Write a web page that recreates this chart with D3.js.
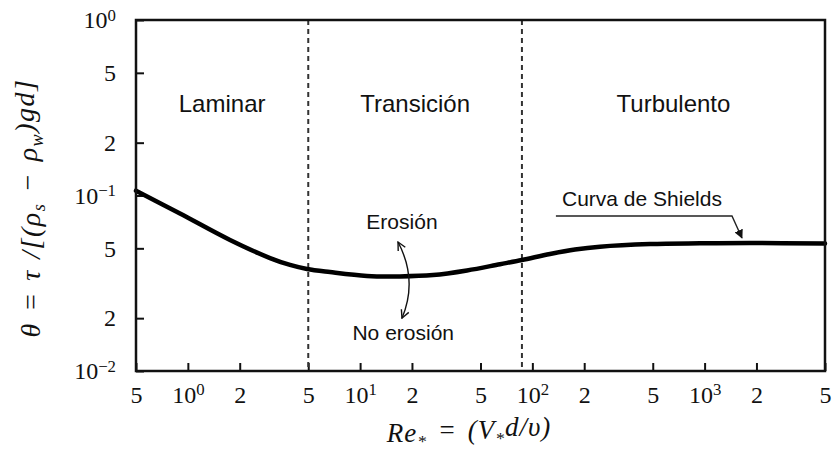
<!DOCTYPE html>
<html>
<head>
<meta charset="utf-8">
<style>
  body { margin: 0; background: #fff; }
  .tick text { font-family: "Liberation Serif", serif; font-size: 24px; fill: #111; }
  .region { font-family: "Liberation Sans", Arial, sans-serif; font-size: 24px; fill: #111; text-anchor: middle; }
  .note { font-family: "Liberation Sans", Arial, sans-serif; font-size: 21px; fill: #111; text-anchor: middle; }
  .title { font-family: "Liberation Serif", serif; font-style: italic; fill: #111; text-anchor: middle; }
</style>
</head>
<body>
<svg width="834" height="450"></svg>
<script src="https://d3js.org/d3.v7.min.js"></script>
<script>
// Shields curve
var reynolds = [0.5, 0.9, 1.757, 3.0, 3.918, 4.917, 6.687, 10.96, 17.04, 26.5, 41.74, 64.89, 87, 126.6, 176.8, 247, 482, 940, 1834, 5000];
var theta = [0.1065, 0.079, 0.0558, 0.044, 0.0402, 0.0381, 0.0366, 0.0348, 0.0346, 0.0352, 0.0374, 0.0406, 0.0429, 0.0464, 0.0492, 0.0511, 0.0529, 0.0534, 0.0536, 0.0533];

var xTicks = [0.5, 1, 2, 5, 10, 20, 50, 100, 200, 500, 1000, 2000, 5000];
var xTickLabels = ["5", "10^0", "2", "5", "10^1", "2", "5", "10^2", "2", "5", "10^3", "2", "5"];
var yTicks = [1, 0.5, 0.2, 0.1, 0.05, 0.02, 0.01];
var yTickLabels = ["10^0", "5", "2", "10^−1", "5", "2", "10^−2"];

var regimeBounds = [5, 87];
var regimes = ["Laminar", "Transición", "Turbulento"];

var svg = d3.select("svg"),
    margin = {top: 20, right: 9, bottom: 79, left: 136},
    w = +svg.attr("width") - margin.left - margin.right,
    h = +svg.attr("height") - margin.top - margin.bottom;

var x = d3.scaleLog().domain([0.5, 5000]).range([0, w]);
var y = d3.scaleLog().domain([0.01, 1]).range([h, 0]);

var g = svg.append("g")
    .attr("transform", "translate(" + margin.left + "," + margin.top + ")");

var defs = svg.append("defs");
defs.append("marker").attr("id", "solid")
    .attr("viewBox", "0 0 10 10").attr("refX", 9).attr("refY", 5)
    .attr("markerWidth", 9).attr("markerHeight", 9).attr("markerUnits", "userSpaceOnUse")
    .attr("orient", "auto")
  .append("path").attr("d", "M0,0L10,5L0,10Z").attr("fill", "#111");
defs.append("marker").attr("id", "open")
    .attr("viewBox", "0 0 10 10").attr("refX", 9).attr("refY", 5)
    .attr("markerWidth", 10).attr("markerHeight", 10).attr("markerUnits", "userSpaceOnUse")
    .attr("orient", "auto-start-reverse")
  .append("path").attr("d", "M1,1L9,5L1,9").attr("fill", "none").attr("stroke", "#111").attr("stroke-width", 1.4);

function supLabel(sel, labels) {
  sel.selectAll(".tick text").each(function(d, i) {
    var t = d3.select(this), parts = labels[i].split("^");
    t.text(parts[0]);
    if (parts[1]) {
      t.append("tspan").attr("dy", "-0.45em").attr("font-size", "0.7em").text(parts[1]);
    }
  });
}

var xAxis = g.append("g")
    .attr("transform", "translate(0," + h + ")")
    .call(d3.axisBottom(x).tickValues(xTicks).tickSizeInner(-8).tickSizeOuter(0).tickPadding(15));
xAxis.call(supLabel, xTickLabels);

var yAxis = g.append("g")
    .call(d3.axisLeft(y).tickValues(yTicks).tickSizeInner(-8).tickSizeOuter(0).tickPadding(20));
yAxis.call(supLabel, yTickLabels);

g.selectAll(".domain").remove();
g.selectAll(".tick line").attr("stroke", "#111").attr("stroke-width", 2);

// regime boundaries
g.selectAll(".bound")
    .data(regimeBounds)
  .enter().append("line")
    .attr("x1", function(d) { return x(d); }).attr("x2", function(d) { return x(d); })
    .attr("y1", 0).attr("y2", h)
    .attr("stroke", "#333").attr("stroke-width", 2).attr("stroke-dasharray", "5,4");

var edges = [x.domain()[0]].concat(regimeBounds, [x.domain()[1]]);
g.selectAll(".region")
    .data(regimes)
  .enter().append("text")
    .attr("class", "region")
    .attr("x", function(d, i) { return x(Math.sqrt(edges[i] * edges[i + 1])); })
    .attr("y", y(0.3))
    .text(function(d) { return d; });

// curve
var pts = reynolds.map(function(r, i) { return [r, theta[i]]; });
g.append("path")
    .datum(pts)
    .attr("fill", "none")
    .attr("stroke", "#000")
    .attr("stroke-width", 4.5)
    .attr("stroke-linecap", "round")
    .attr("d", d3.line()
        .x(function(d) { return x(d[0]); })
        .y(function(d) { return y(d[1]); })
        .curve(d3.curveCatmullRom.alpha(0.5)));

// annotations
g.append("text").attr("class", "note").attr("x", x(17.5)).attr("y", y(0.0644)).text("Erosión");
g.append("text").attr("class", "note").attr("x", x(17.8)).attr("y", y(0.015)).text("No erosión");
g.append("path")
    .attr("d", "M" + x(17.5) + "," + y(0.02) + "Q" + x(21.7) + "," + y(0.033) + " " + x(16.6) + "," + y(0.0543))
    .attr("fill", "none").attr("stroke", "#111").attr("stroke-width", 1.4)
    .attr("marker-start", "url(#open)").attr("marker-end", "url(#open)");

g.append("text").attr("class", "note").attr("x", x(433)).attr("y", y(0.0871)).text("Curva de Shields");
g.append("path")
    .attr("d", "M" + x(137) + "," + y(0.0764) + "H" + x(1442) + "L" + x(1648) + "," + y(0.0573))
    .attr("fill", "none").attr("stroke", "#222").attr("stroke-width", 1.4)
    .attr("marker-end", "url(#solid)");

// frame
g.append("rect")
    .attr("width", w).attr("height", h)
    .attr("fill", "none").attr("stroke", "#111").attr("stroke-width", 2.5);

// axis titles
var xt = svg.append("text").attr("class", "title")
    .attr("x", 469).attr("y", 442).attr("xml:space", "preserve")
    .style("font-size", "27px").style("letter-spacing", "1px").style("word-spacing", "3px");
xt.append("tspan").text("Re");
xt.append("tspan").attr("font-size", "0.65em").attr("dy", "0.3em").text("*");
xt.append("tspan").attr("dy", "-0.3em").text(" = (V");
xt.append("tspan").attr("font-size", "0.65em").attr("dy", "0.3em").text("*");
xt.append("tspan").attr("dy", "-0.3em").text("d/υ)");

var yt = svg.append("text").attr("class", "title")
    .attr("transform", "translate(40,208) rotate(-90)").attr("xml:space", "preserve")
    .style("font-size", "28px").style("letter-spacing", "1.5px").style("word-spacing", "2px");
yt.append("tspan").text("θ = τ /[(ρ");
yt.append("tspan").attr("font-size", "0.65em").attr("dy", "0.3em").text("s");
yt.append("tspan").attr("dy", "-0.3em").text(" − ρ");
yt.append("tspan").attr("font-size", "0.65em").attr("dy", "0.3em").text("w");
yt.append("tspan").attr("dy", "-0.3em").text(")gd]");
</script>
</body>
</html>
